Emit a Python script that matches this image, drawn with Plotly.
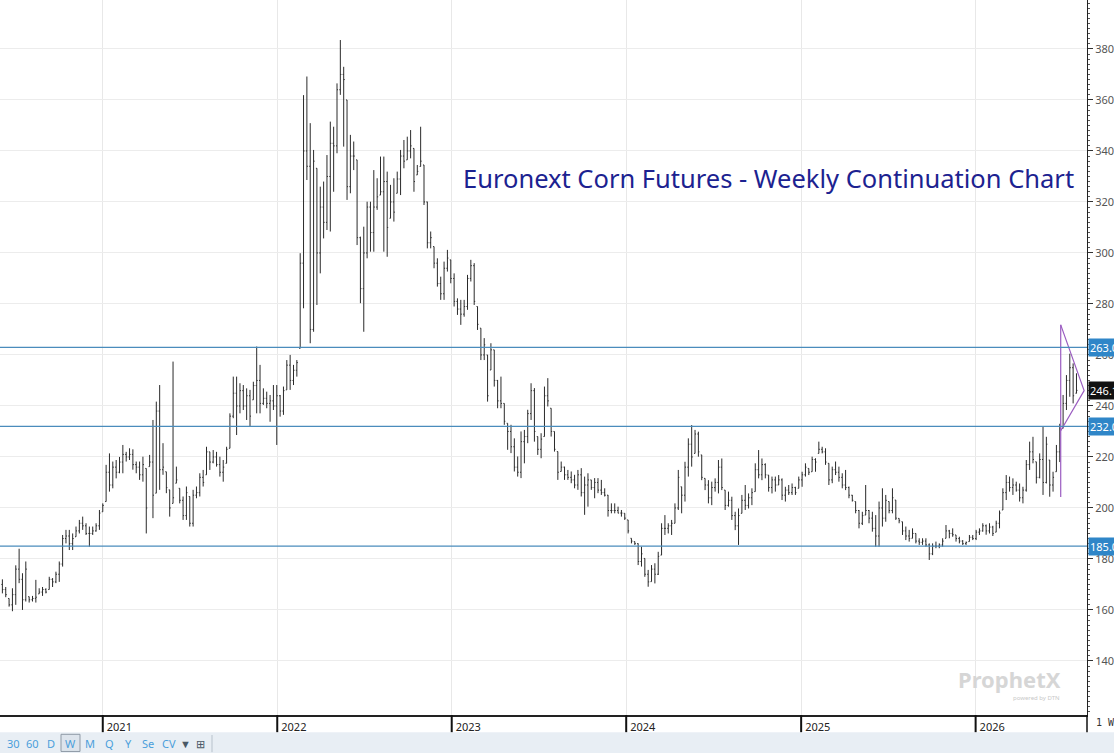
"""Euronext corn futures, weekly continuation bar chart (ProphetX style)."""

import pandas as pd
import plotly.graph_objects as go

# weekly bars, first week ending 2020-06-05
first_week = "2020-06-05"
n_weeks = 322

bar_open = [
    170, 168, 164.5, 162, 166, 176, 172, 164, 165.2, 164,
    164.5, 166.3, 167, 168, 168, 172, 171, 174, 178, 188,
    189, 186, 188.7, 191, 194, 193, 190, 190, 191, 193,
    198.5, 202.5, 214, 209, 216, 214, 218, 221, 220, 221,
    217, 216, 213, 215.5, 216.2, 218, 205.8, 238, 215, 214.2,
    207.1, 201.8, 209.7, 207.7, 203, 197, 204.5, 194, 205, 206,
    212, 213, 222, 218, 220, 217, 214, 217.5, 223.4, 236,
    245, 240, 246, 240, 244, 242.4, 248, 250, 241, 243,
    241, 242, 240, 244, 238, 246.3, 256, 250, 254, 262.6,
    296, 340, 334, 270, 333.2, 300, 318, 312, 330, 343,
    342, 364, 370, 360, 326, 338, 336.5, 306, 286, 300,
    318, 308, 318, 322.7, 324, 328, 313.6, 320, 323.4, 329,
    338, 336.5, 340, 341, 330.6, 333.9, 334.5, 320, 304, 302.5,
    296, 288, 284, 294, 297.3, 290, 281, 278, 276, 279,
    290, 295, 279, 270.5, 260, 260, 254.1, 262, 250, 242,
    241, 233.2, 230, 224, 216, 214, 226, 228, 237, 246,
    228, 223, 228, 244, 239.1, 230, 222.1, 214.3, 216, 213,
    212, 211, 209, 213, 206, 209, 211, 208, 210, 207,
    206, 205, 199, 199, 199, 198, 197.9, 195.3, 188.1, 186.8,
    186, 179, 180.2, 174, 171.1, 176, 174, 181.5, 192, 192,
    193, 194, 200, 208.3, 205, 216, 225, 221.4, 229, 220.8,
    211.6, 209, 204, 208, 210, 216, 207, 201, 203, 197,
    193, 197.9, 203, 201, 204, 206.4, 215, 213, 217, 212.9,
    208, 211, 209, 211, 205, 207, 206, 208, 207.7, 211,
    213, 215.5, 214.2, 219, 221.4, 223, 222, 217.5, 211, 215,
    214, 212, 209, 208, 205, 202.5, 199, 194, 197.2, 199,
    196, 192, 189, 200, 196, 202.5, 199, 203.1, 195.9, 194.6,
    191, 189, 188.1, 190, 187, 186.5, 187, 185.5, 182, 185,
    185, 185.5, 188.1, 191, 190, 189.4, 188, 187, 186, 186.8,
    188.5, 188, 190.5, 191, 193, 191, 192.5, 190.5, 194, 199.2,
    206, 210, 208, 209, 207, 204, 207, 217, 222, 218.1,
    212, 219, 210, 218.8, 209, 214.2, 222, 231.2, 241, 250,
    255, 245,
]

bar_high = [
    172, 169, 164.5, 168.5, 177.5, 184, 174.4, 179, 165.2, 165.5,
    171.8, 168.5, 169, 168.5, 173, 172.5, 175, 179, 189.4, 191.4,
    191.4, 190, 192.7, 195.3, 196.6, 194, 192.7, 192.7, 194, 199.2,
    201.8, 216.9, 221.4, 218.2, 218.8, 220, 224.7, 222, 223.4, 223,
    218.2, 218.2, 220.1, 215.5, 220.8, 234.5, 241.7, 248.2, 225.4, 214.2,
    207.1, 257.4, 216.2, 207.7, 204.5, 208.4, 204.5, 207.1, 208.4, 213.6,
    214.9, 224, 222, 222.7, 222, 220.1, 218.8, 224, 237.1, 251.5,
    251.5, 248.9, 248.2, 246.9, 246.3, 249.5, 263.3, 256.1, 246.9, 245.6,
    244.3, 248.2, 248.2, 244.3, 247.6, 258, 260, 256.1, 258, 299.9,
    361.9, 369.2, 350.9, 340.4, 333.2, 326, 328, 338.4, 351.5, 349.5,
    366.5, 383.5, 373, 360, 346.3, 343.7, 336.5, 306.4, 310.3, 320.1,
    320.1, 332.5, 329.3, 337.8, 337.8, 331.9, 326.7, 329.3, 331.9, 340.4,
    344.3, 345.6, 348.2, 341, 334.5, 349.5, 334.5, 320.1, 308.4, 302.5,
    297.9, 290.7, 296.6, 301.2, 297.3, 292, 282.2, 281.6, 281.6, 291.4,
    297.3, 296, 279, 270.5, 266.6, 260, 264.6, 262, 250.2, 251.5,
    241, 233.2, 232.6, 227.3, 220.2, 230, 230.6, 238.5, 248.9, 247,
    228, 229.3, 247.6, 250.9, 239.1, 230, 222.1, 218.2, 216.2, 214.9,
    214.3, 213, 214.9, 215.6, 212.3, 213.6, 211, 211.7, 211.7, 211,
    207.7, 205.1, 201.8, 201.8, 200.5, 199.2, 197.9, 195.3, 188.1, 186.8,
    186.1, 184.8, 180.2, 175.7, 177.6, 178.3, 182.8, 194, 197.2, 194,
    195.3, 201.8, 214.9, 208.3, 218.1, 227.3, 232.5, 230.6, 229.9, 220.8,
    211.6, 210.9, 210.3, 211.6, 218.8, 219.4, 207, 206.4, 204.4, 198.5,
    199.8, 205.1, 209, 205.7, 207.7, 217.5, 222.7, 219.4, 217.5, 212.9,
    212.3, 212.3, 212.9, 211.6, 208.3, 209, 209.6, 208.3, 212.3, 214.2,
    217.5, 215.5, 220.1, 219.5, 226, 224, 223.4, 217.5, 216.2, 218.2,
    216.2, 213.6, 214.9, 208.4, 205.1, 202.5, 199.2, 198.5, 209, 199.2,
    198.5, 197.2, 202.5, 207.7, 205.1, 202.5, 207.7, 203.1, 195.9, 194.6,
    192.7, 191.4, 192, 190, 188.1, 188.1, 188.1, 186.1, 186.1, 186.8,
    186.1, 188.1, 193.3, 191.4, 192, 189.4, 188.7, 187.4, 186.8, 189.4,
    189.4, 191.4, 192, 194, 193.5, 194, 193, 195, 199, 207.7,
    212.9, 212.3, 211.6, 210.3, 209.6, 208.3, 218.8, 226, 227.9, 218.1,
    221.4, 231.9, 227.9, 218.8, 214.2, 224.7, 233, 244.3, 252.1, 260.5,
    256.7, 252.8,
]

bar_low = [
    166.5, 165, 161.3, 159.5, 162, 170.5, 160, 163.3, 162.9, 163.3,
    162.9, 166.3, 165.5, 166.5, 168, 169, 170.5, 171, 177, 186.1,
    183.5, 183.5, 188.7, 190, 191.4, 189.4, 184.8, 189.4, 190.7, 191.4,
    198.5, 202.5, 206.4, 207.7, 211.6, 213.6, 213.6, 218.2, 218.8, 215,
    213.6, 211, 210.3, 190, 216.2, 196, 205.8, 207.1, 213, 205.8,
    196.6, 201.8, 209.7, 201.8, 195.3, 195.3, 192.7, 192.7, 203.8, 204.5,
    208.4, 213, 214.9, 217.5, 216.2, 212.3, 210.3, 217.5, 223.4, 235.2,
    228.6, 237.1, 238.4, 234.5, 231.9, 242.4, 237.1, 237.1, 240.4, 239.1,
    233.8, 238.4, 224.7, 235.8, 236.5, 246.3, 246.3, 248.2, 251.5, 262.6,
    278.3, 328.6, 264.6, 269.1, 279.6, 292, 305.7, 309, 308.4, 324,
    339.1, 362, 341.7, 320.8, 323.4, 332.5, 303.1, 280.3, 269.1, 297.9,
    300.5, 300.5, 316.9, 322.7, 300.5, 298.5, 313.6, 312.3, 323.4, 322.7,
    333.2, 336.5, 337.1, 324, 330.6, 333.9, 318.8, 301.8, 301.8, 294,
    286.8, 281.6, 281.6, 292.7, 288.1, 279, 275.7, 271.8, 275, 277.7,
    288.8, 279.6, 269.8, 258, 258, 241.7, 254.1, 247.6, 239.1, 239.1,
    232.6, 222.8, 221.5, 214.3, 212.3, 211.7, 217.5, 225.4, 234.5, 226,
    220.8, 219.5, 228, 239.8, 228, 222.1, 211, 214.3, 211, 211,
    209.7, 207.7, 207.1, 204.5, 197.3, 200.5, 207.1, 203.8, 205.8, 205.1,
    204.5, 196.6, 197.9, 197.9, 197.9, 196.6, 195.3, 190, 186.1, 185.5,
    177.6, 177, 173, 169.1, 171.1, 170.4, 173.7, 181.5, 189.4, 190,
    189.4, 194, 199.2, 197.9, 202.5, 212.3, 216.2, 221.4, 220.1, 210.9,
    207, 201.8, 201.1, 206.4, 205.7, 207, 199.2, 200.5, 195.3, 191.3,
    185.5, 197.9, 199.2, 199.8, 201.1, 206.4, 211.6, 210.9, 211.6, 206.4,
    205.7, 206.4, 209, 203.1, 202.5, 205.1, 205.1, 205.1, 207.7, 208.3,
    212.3, 212.9, 214.2, 214.2, 221.4, 221.4, 216.9, 209, 209.7, 212.9,
    210.3, 207.7, 207, 203.8, 202.5, 197.9, 192, 193.3, 197.2, 194,
    190.7, 184.8, 184.8, 192.7, 194.6, 197.9, 197.9, 195.3, 194, 189.4,
    187.4, 186.8, 188.1, 186.1, 185.5, 185.5, 184.8, 179.6, 181.5, 184.2,
    184.2, 184.8, 188.1, 188.1, 188.7, 186.8, 186.1, 185.5, 185.5, 186.8,
    187.4, 187.4, 189.4, 190.7, 189.5, 190, 189, 190.5, 192, 199.2,
    203.1, 206.4, 205.1, 206.4, 202.5, 201.8, 206.4, 214.9, 217.5, 209.6,
    211.6, 205.1, 209.6, 204.4, 206.4, 214.2, 218, 231.2, 238.4, 243.6,
    241, 244.9,
]

bar_close = [
    168, 166, 162, 166, 176, 172, 164, 176, 164, 164.5,
    165, 167, 168, 167, 172, 171, 174, 178, 188, 189,
    186, 188, 191, 194, 193, 190, 190, 191, 193, 198,
    201, 214, 209, 216, 214, 218, 221, 220, 221, 217,
    216, 213, 217, 200, 218, 205, 238, 215, 216, 208,
    200, 204, 211, 203, 197, 206, 194, 205, 206, 212,
    210, 222, 218, 220, 217, 214, 216, 223, 236, 245,
    240, 246, 240, 244, 236, 248, 250, 241, 243, 241,
    242, 240, 244, 238, 246, 256, 250, 254, 257, 296,
    340, 334, 270, 336, 300, 318, 312, 330, 343, 342,
    364, 370, 368, 326, 338, 338, 306, 286, 300, 318,
    308, 318, 322, 324, 328, 310, 320, 316, 329, 338,
    336, 340, 342, 328, 332, 336, 320, 304, 306, 296,
    288, 284, 294, 298, 290, 281, 278, 276, 279, 290,
    295, 281, 272, 260, 264, 244, 262, 250, 242, 241,
    234, 230, 224, 216, 214, 226, 228, 237, 246, 230,
    223, 227, 244, 242, 230, 223, 214, 216, 213, 212,
    211, 209, 213, 206, 209, 211, 208, 210, 207, 206,
    205, 199, 199, 199, 198, 198, 196, 191, 187, 186,
    179, 182, 174, 171, 176, 174, 181, 192, 192, 193,
    194, 200, 212, 205, 216, 225, 220, 229, 222, 212,
    209, 204, 208, 210, 216, 208, 201, 203, 197, 193,
    197, 203, 201, 204, 206, 215, 213, 217, 213, 208,
    211, 209, 211, 205, 207, 206, 208, 206, 211, 213,
    216, 214, 219, 218, 223, 222, 218, 211, 215, 214,
    212, 209, 208, 205, 203, 199, 194, 197, 199, 196,
    192, 189, 200, 196, 203, 199, 204, 196, 195, 191,
    189, 188, 190, 187, 186.5, 187, 185.5, 182, 185, 185,
    185.5, 187, 191, 190, 189.5, 188, 187, 186, 186.5, 188.5,
    188, 190.5, 191, 193, 191, 192.5, 190, 194, 198, 206,
    210, 208, 209, 207, 204, 207, 217, 222, 219, 212,
    219, 210, 225, 209, 212, 222, 231, 241, 250, 255,
    244, 246.1,
]

# horizontal levels drawn on the chart and the last price
levels = [263.0, 232.0, 185.0]
last_price = 246.1

# hand-drawn triangle (purple) at the right edge
tri_dates = ["2026-06-28", "2026-08-16", "2026-06-28"]
tri_prices = [271.8, 246.0, 230.3]
tri_stem_dates = ["2026-06-28", "2026-06-28"]
tri_stem_prices = [271.8, 204.3]

years = ["2021", "2022", "2023", "2024", "2025", "2026"]
price_ticks = [140, 160, 180, 200, 220, 240, 260, 280, 300, 320, 340, 360, 380]

weeks = pd.date_range(first_week, periods=n_weeks, freq="7D")

fig = go.Figure()

fig.add_trace(
    go.Ohlc(
        x=weeks,
        open=bar_open,
        high=bar_high,
        low=bar_low,
        close=bar_close,
        increasing=dict(line=dict(color="#2a2a2a", width=1)),
        decreasing=dict(line=dict(color="#2a2a2a", width=1)),
        tickwidth=0.3,
        hoverinfo="skip",
        showlegend=False,
    )
)

purple = "#9a5cc0"
fig.add_trace(
    go.Scatter(
        x=tri_dates, y=tri_prices,
        mode="lines", line=dict(color=purple, width=1.2),
        hoverinfo="skip", showlegend=False,
    )
)
fig.add_trace(
    go.Scatter(
        x=tri_stem_dates, y=tri_stem_prices,
        mode="lines", line=dict(color=purple, width=1.2),
        hoverinfo="skip", showlegend=False,
    )
)

# level lines + their price flags on the right axis
for lv in levels:
    fig.add_shape(
        type="line", xref="paper", x0=0, x1=1, yref="y", y0=lv, y1=lv,
        line=dict(color="#4a8cbc", width=1.2),
    )
    fig.add_annotation(
        xref="paper", x=1, xanchor="left", xshift=1, yref="y", y=lv, yanchor="middle",
        text=f"{lv:.1f}", showarrow=False, bgcolor="#2f86c8",
        font=dict(color="white", size=11, family="Noto Sans"), borderpad=1,
    )

fig.add_annotation(
    xref="paper", x=1, xanchor="left", xshift=1, yref="y", y=last_price, yanchor="middle",
    text=f"{last_price:.1f}", showarrow=False, bgcolor="#111111",
    font=dict(color="white", size=11, family="Noto Sans"), borderpad=1,
)

# year separators in the date strip under the plot
for yr in years:
    fig.add_shape(
        type="line", xref="x", x0=f"{yr}-01-01", x1=f"{yr}-01-01",
        yref="paper", y0=0, y1=-0.024, line=dict(color="#111111", width=2),
    )
fig.add_shape(
    type="line", xref="paper", x0=1, x1=1, yref="paper", y0=0, y1=-0.024,
    line=dict(color="#111111", width=1.5),
)

# toolbar band at the very bottom
fig.add_shape(
    type="rect", xref="paper", x0=0, x1=1.03, yref="paper", y0=-0.024, y1=-0.06,
    fillcolor="#e8eef4", line=dict(width=0), layer="below",
)
fig.add_shape(
    type="rect", xref="paper", x0=61 / 1087, x1=80 / 1087,
    yref="paper", y0=-0.027, y1=-0.051,
    fillcolor="#dde4ec", line=dict(color="#8f9aa6", width=1), layer="below",
)
fig.add_shape(
    type="line", xref="paper", x0=212 / 1087, x1=212 / 1087,
    yref="paper", y0=-0.028, y1=-0.052, line=dict(color="#b8c2cc", width=1),
)
toolbar = [("30", 13), ("60", 32), ("D", 51), ("W", 70), ("M", 90),
           ("Q", 109), ("Y", 128), ("Se", 148), ("CV", 169), ("▼", 185), ("⊞", 200)]
for label, px in toolbar:
    fig.add_annotation(
        xref="paper", x=px / 1087, xanchor="center",
        yref="paper", y=-0.0395, yanchor="middle",
        text=label, showarrow=False,
        font=dict(size=11, color="#4a9edb" if label not in ("▼", "⊞") else "#4a5866",
                  family="Noto Sans"),
    )

fig.add_annotation(
    xref="paper", x=1, xanchor="left", xshift=7, yref="paper", y=-0.011, yanchor="middle",
    text="1 W", showarrow=False,
    font=dict(size=10, color="#333333", family="DejaVu Sans Mono"),
)

# title
fig.add_annotation(
    xref="paper", x=0.7066, xanchor="center", yref="paper", y=0.751, yanchor="middle",
    text="Euronext Corn Futures - Weekly Continuation Chart",
    showarrow=False, font=dict(size=25.5, color="#1c2290", family="Noto Sans"),
)

# ProphetX watermark
fig.add_annotation(
    xref="paper", x=0.929, xanchor="center", yref="paper", y=0.051, yanchor="middle",
    text="<b>ProphetX</b>", showarrow=False,
    font=dict(size=22, color="#d6d6d6", family="Noto Sans"),
)
fig.add_annotation(
    xref="paper", x=0.954, xanchor="center", yref="paper", y=0.024, yanchor="middle",
    text="powered by DTN", showarrow=False,
    font=dict(size=6, color="#c8c8c8", family="Noto Sans"),
)

fig.update_layout(
    width=1114,
    height=753,
    margin=dict(l=0, r=27, t=0, b=38, autoexpand=False),
    paper_bgcolor="white",
    plot_bgcolor="white",
    hovermode=False,
    font=dict(family="Noto Sans", size=11, color="#444444"),
    xaxis=dict(
        type="date",
        range=["2020-05-31", "2026-08-22"],
        rangeslider=dict(visible=False),
        tickvals=[f"{yr}-01-01" for yr in years],
        ticktext=years,
        ticks="",
        ticklabelposition="outside right",
        ticklabelshift=3,
        ticklabelstandoff=1,
        tickfont=dict(size=11, color="#222222"),
        showgrid=True,
        gridcolor="#e8e8e8",
        showline=True,
        linecolor="#222222",
        linewidth=2,
        zeroline=False,
        automargin=False,
    ),
    yaxis=dict(
        side="right",
        range=[118.8, 399.2],
        tickvals=price_ticks,
        ticks="outside",
        ticklen=5,
        tickcolor="#333333",
        showgrid=True,
        gridcolor="#ececec",
        showline=True,
        linecolor="#222222",
        linewidth=1,
        zeroline=False,
        automargin=False,
        tickfont=dict(size=11, color="#555555"),
        minor=dict(tick0=0, dtick=2, ticks="outside", ticklen=2,
                   tickcolor="#555555", showgrid=False),
    ),
)

# page body has a default 8px margin; drop it so the chart sits at the top-left
fig.write_html(
    "out.html",
    config={"displayModeBar": False},
    post_script="document.body.style.margin='0';",
)
